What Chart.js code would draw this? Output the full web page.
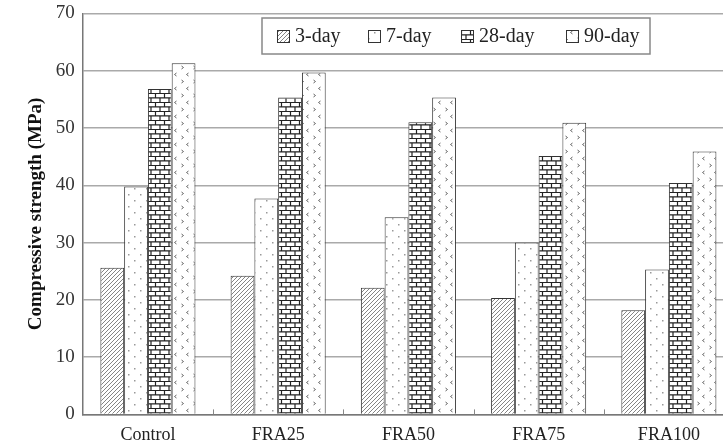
<!DOCTYPE html>
<html>
<head>
<meta charset="utf-8">
<script src="https://cdn.jsdelivr.net/npm/chart.js@4.4.0/dist/chart.umd.min.js"></script>
<style>
  html, body { margin: 0; padding: 0; background: #fff; overflow: hidden; }
  #wrap { width: 740px; height: 451px; margin-top: -6px; }
</style>
</head>
<body>
<div id="wrap"><canvas id="grafico"></canvas></div>
<script>
// dados
const categorias = ["Control", "FRA25", "FRA50", "FRA75", "FRA100"];
const idades = ["3-day", "7-day", "28-day", "90-day"];
const dia3 = [25.6, 24.2, 22.1, 20.3, 18.2];
const dia7 = [39.8, 37.7, 34.4, 30.0, 25.3];
const dia28 = [56.8, 55.3, 51.0, 45.1, 40.4];
const dia90 = [61.3, 59.7, 55.3, 50.9, 45.9];
const yTicks = [0, 10, 20, 30, 40, 50, 60, 70];

const serif = "'Liberation Serif', 'Times New Roman', serif";

// texturas das barras
function criarPadrao(w, h, desenhar) {
    const c = document.createElement("canvas");
    c.width = w;
    c.height = h;
    const g = c.getContext("2d");
    g.fillStyle = "#fff";
    g.fillRect(0, 0, w, h);
    desenhar(g);
    return document.createElement("canvas").getContext("2d").createPattern(c, "repeat");
}

const padraoHachura = criarPadrao(4, 4, g => {
    g.strokeStyle = "#666";
    g.lineWidth = 0.8;
    g.beginPath();
    g.moveTo(-1, 5); g.lineTo(5, -1);
    g.moveTo(-1, 1); g.lineTo(1, -1);
    g.moveTo(3, 5); g.lineTo(5, 3);
    g.stroke();
});

const padraoPontos = criarPadrao(12, 12, g => {
    g.fillStyle = "#999";
    g.fillRect(2, 2, 1.5, 1.5);
    g.fillRect(8, 8, 1.5, 1.5);
});

const padraoTijolo = criarPadrao(18, 9, g => {
    g.strokeStyle = "#222";
    g.lineWidth = 1.2;
    g.beginPath();
    g.moveTo(0, 0.5); g.lineTo(18, 0.5);
    g.moveTo(0, 4.8); g.lineTo(18, 4.8);
    g.moveTo(2.5, 0.5); g.lineTo(2.5, 4.8);
    g.moveTo(11.5, 0.5); g.lineTo(11.5, 4.8);
    g.moveTo(7, 4.8); g.lineTo(7, 9);
    g.moveTo(16, 4.8); g.lineTo(16, 9);
    g.stroke();
});

const padraoSetas = criarPadrao(12, 14, g => {
    g.strokeStyle = "#666";
    g.lineWidth = 1;
    g.beginPath();
    g.moveTo(1.5, 2); g.lineTo(3.5, 3.5); g.lineTo(1.5, 5);
    g.moveTo(8.5, 9); g.lineTo(6.5, 10.5); g.lineTo(8.5, 12);
    g.stroke();
});

const padroes = [padraoHachura, padraoPontos, padraoTijolo, padraoSetas];
const valores = [dia3, dia7, dia28, dia90];

// legenda com caixa dentro da área do gráfico (coordenadas da página + deslocamento do canvas)
const legendaCaixa = {
    id: "legendaCaixa",
    afterDraw(chart) {
        const ctx = chart.ctx;
        const dy = 6;
        const x0 = 262, y0 = 18 + dy, x1 = 650, y1 = 54 + dy;
        ctx.save();
        ctx.fillStyle = "#fff";
        ctx.fillRect(x0, y0, x1 - x0, y1 - y0);
        ctx.strokeStyle = "#888";
        ctx.lineWidth = 1.5;
        ctx.strokeRect(x0, y0, x1 - x0, y1 - y0);
        const posicoes = [277, 368, 461, 566];
        ctx.font = "20px " + serif;
        ctx.textBaseline = "middle";
        chart.data.datasets.forEach((ds, i) => {
            const px = posicoes[i];
            ctx.fillStyle = ds.backgroundColor;
            ctx.fillRect(px, 30 + dy, 12, 12);
            ctx.strokeStyle = "#333";
            ctx.lineWidth = 1;
            ctx.strokeRect(px + 0.5, 30.5 + dy, 12, 12);
            ctx.fillStyle = "#222";
            ctx.fillText(ds.label, px + 18, 37 + dy);
        });
        ctx.restore();
    }
};

// tracinhos entre as categorias no eixo x
const marcasX = {
    id: "marcasX",
    afterDatasetsDraw(chart) {
        const ctx = chart.ctx;
        const area = chart.chartArea;
        const largura = (area.right - area.left) / categorias.length;
        ctx.save();
        ctx.strokeStyle = "#888";
        ctx.lineWidth = 1;
        ctx.beginPath();
        for (let i = 1; i < categorias.length; i++) {
            const x = Math.round(area.left + i * largura) + 0.5;
            ctx.moveTo(x, area.bottom);
            ctx.lineTo(x, area.bottom - 5);
        }
        ctx.stroke();
        ctx.restore();
    }
};

new Chart(document.getElementById("grafico"), {
    type: "bar",
    data: {
        labels: categorias,
        datasets: idades.map((idade, i) => ({
            label: idade,
            data: valores[i],
            backgroundColor: padroes[i],
            borderColor: "#333",
            borderWidth: 1,
            categoryPercentage: 0.73,
            barPercentage: 1.0
        }))
    },
    options: {
        responsive: true,
        maintainAspectRatio: false,
        animation: false,
        layout: { padding: { top: -7, right: 6, left: 25, bottom: -3 } },
        plugins: {
            legend: { display: false },
            tooltip: { enabled: false }
        },
        scales: {
            x: {
                grid: { display: false },
                border: { color: "#777", width: 1.5 },
                ticks: {
                    color: "#222",
                    padding: 2,
                    font: { family: serif, size: 18 }
                }
            },
            y: {
                min: 0,
                max: 70,
                afterBuildTicks: axis => { axis.ticks = yTicks.map(v => ({ value: v })); },
                grid: { color: "#aaa", lineWidth: 1.5, drawTicks: false },
                border: { color: "#777", width: 1.5 },
                ticks: {
                    color: "#333",
                    padding: 8,
                    font: { family: serif, size: 19 }
                },
                title: {
                    display: true,
                    text: "Compressive strength (MPa)",
                    color: "#111",
                    padding: { top: 0, bottom: 0 },
                    font: { family: serif, size: 19, weight: "bold" }
                }
            }
        }
    },
    plugins: [legendaCaixa, marcasX]
});
</script>
</body>
</html>
